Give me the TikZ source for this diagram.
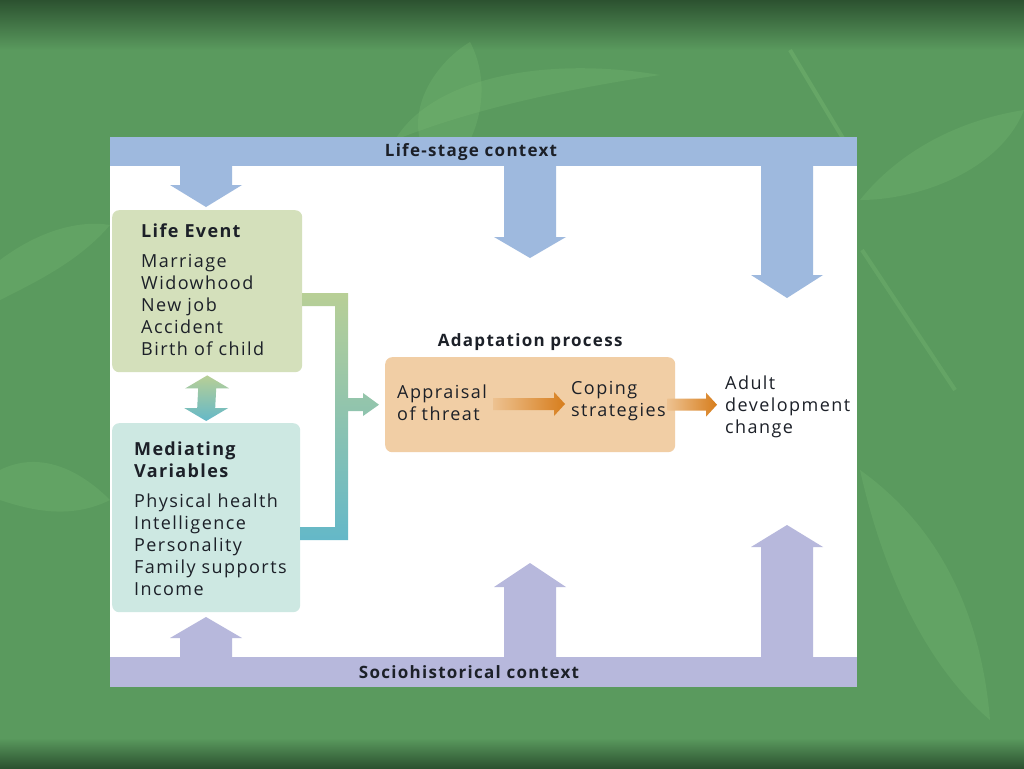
\documentclass[tikz,border=0pt]{standalone}
\usepackage{fontspec}
\setmainfont{Open Sans}[LetterSpace=8, BoldFeatures={LetterSpace=7.5}]
\usetikzlibrary{positioning,calc}

\definecolor{slidegreen}{RGB}{90,154,94}
\definecolor{slidedark}{RGB}{44,82,48}
\definecolor{leafgreen}{RGB}{125,190,118}
\definecolor{stageblue}{RGB}{158,185,222}
\definecolor{sociopurple}{RGB}{183,184,220}
\definecolor{eventgreen}{RGB}{212,224,187}
\definecolor{mediateaqua}{RGB}{205,232,226}
\definecolor{adaptpeach}{RGB}{241,206,165}
\definecolor{copeorange}{RGB}{215,125,28}
\definecolor{linkgreen}{RGB}{184,207,150}
\definecolor{linkteal}{RGB}{100,184,200}
\definecolor{inkdark}{RGB}{28,32,40}

\begin{document}
\begin{tikzpicture}[x=1pt, y=-1pt,
    every node/.style={inner sep=0pt, text=inkdark, font=\fontsize{18}{22}\selectfont},
    ctxlabel/.style={font=\bfseries\fontsize{17}{20}\selectfont},
    listbox/.style={rounded corners=7pt, anchor=north west},
    eventbox/.style={listbox, fill=eventgreen, minimum width=190pt, minimum height=162pt},
    mediatebox/.style={listbox, fill=mediateaqua, minimum width=188pt, minimum height=189pt},
    adaptbox/.style={listbox, fill=adaptpeach, minimum width=290pt, minimum height=95pt},
    listtext/.style={anchor=north west, align=left},
    steptext/.style={anchor=west, align=left},
    leaf/.style={fill=leafgreen, fill opacity=0.25},
    stagearrow/.style={fill=stageblue},
    socioarrow/.style={fill=sociopurple},
    linkshade/.style={top color=linkgreen, bottom color=linkteal},
    orangearrow/.style={left color=adaptpeach!85!copeorange, right color=copeorange}
]
    \useasboundingbox (0,0) rectangle (1024,768);

    % Slide background
    \fill[slidegreen] (0,0) rectangle (1024,768);
    \shade[top color=slidedark, bottom color=slidegreen] (0,0) rectangle (1024,50);
    \shade[top color=slidegreen, bottom color=slidedark] (0,738) rectangle (1024,768);
    \fill[leaf] (395,140) .. controls (430,80) and (540,55) .. (660,75) .. controls (560,90) and (470,110) .. (395,140);
    \fill[leaf] (420,140) .. controls (410,100) and (440,60) .. (470,42) .. controls (490,80) and (480,120) .. (470,140);
    \fill[leaf] (860,200) .. controls (900,150) and (960,120) .. (1024,110) .. controls (1000,170) and (920,200) .. (860,200);
    \fill[leaf] (860,470) .. controls (930,520) and (980,600) .. (990,720) .. controls (920,660) and (880,560) .. (860,470);
    \fill[leaf] (0,260) .. controls (40,230) and (80,220) .. (110,225) .. controls (80,260) and (40,280) .. (0,300);
    \fill[leaf] (0,470) .. controls (40,450) and (80,470) .. (110,500) .. controls (70,520) and (30,510) .. (0,500);
    \draw[leafgreen, opacity=0.35, line width=4pt] (790,50) -- (850,150);
    \draw[leafgreen, opacity=0.3, line width=4pt] (862,250) -- (955,390);

    % Panel and context bands
    \fill[white] (110,137) rectangle (857,687);
    \fill[stageblue] (110,137) rectangle (857,166);
    \fill[sociopurple] (110,657) rectangle (857,687);
    \node[ctxlabel] (lifestage) at (471,152) {Life-stage context};
    \node[ctxlabel] (sociohist) at (469,672) {Sociohistorical context};

    % Context arrows
    \foreach \cx/\hb/\tip in {206/185/207, 530/237/258, 787/275/298}
        \fill[stagearrow] (\cx-26,160) -- (\cx+26,160) -- (\cx+26,\hb) -- (\cx+36,\hb) -- (\cx,\tip) -- (\cx-36,\hb) -- (\cx-26,\hb) -- cycle;
    \foreach \cx/\hb/\tip in {206/638/617, 530/587/563, 787/547/525}
        \fill[socioarrow] (\cx-26,662) -- (\cx+26,662) -- (\cx+26,\hb) -- (\cx+36,\hb) -- (\cx,\tip) -- (\cx-36,\hb) -- (\cx-26,\hb) -- cycle;

    % Life event and mediating variables
    \node[eventbox] (event) at (112,210) {};
    \node[listtext] (eventlist) at ([xshift=29pt, yshift=-14pt]event.north west)
        {\textbf{Life Event}\\[8pt]Marriage\\Widowhood\\New job\\Accident\\Birth of child};
    \node[mediatebox] (mediate) at (112,423) {};
    \node[listtext] (mediatelist) at ([xshift=22pt, yshift=-19pt]mediate.north west)
        {\textbf{Mediating}\\\textbf{Variables}\\[8pt]Physical health\\Intelligence\\Personality\\Family supports\\Income};

    % Two-way arrow between the boxes
    \coordinate (dtop) at ([yshift=-3pt]event.south);
    \coordinate (dbot) at ([yshift=2pt]mediate.north);
    \shade[linkshade] (dtop) -- ++(22,13) -- ++(-13,0) -- ($(dbot)+(9,-13)$) -- ++(13,0) -- (dbot)
        -- ++(-22,-13) -- ++(13,0) -- ($(dtop)+(-9,13)$) -- ++(-13,0) -- cycle;

    % Adaptation process
    \node[adaptbox] (adapt) at (385,357) {};
    \node[ctxlabel, above=6pt of adapt.north] (adaptlabel) {Adaptation process};
    \node[steptext] (appraisal) at (397,403) {Appraisal\\of threat};
    \node[steptext] (coping) at (571,401) {Coping\\strategies};
    \node[steptext] (adult) at (725,407) {Adult\\development\\change};

    % Bracket joining both boxes into the process
    \shade[linkshade] (302,293) -- (348,293) -- (348,398) -- (363,398) -- (363,393)
        -- ([xshift=-6pt]adapt.west) -- (363,416) -- (363,411) -- (348,411) -- (348,540)
        -- (300,540) -- (300,527) -- (335,527) -- (335,306) -- (302,306) -- cycle;

    % Orange step arrows
    \path[orangearrow] let \p1=($(appraisal.east)+(6,1)$), \p2=($(coping.west)+(-6,0)$) in
        (\x1,\y1+6pt) -- (\x2-11pt,\y1+6pt) -- (\x2-11pt,\y1+12pt) -- (\x2,\y1)
        -- (\x2-11pt,\y1-12pt) -- (\x2-11pt,\y1-6pt) -- (\x1,\y1-6pt) -- cycle;
    \path[orangearrow] let \p1=($(adapt.east)+(-8,0)$), \p2=($(adult.west)+(-8,0)$) in
        (\x1,\y1+6pt) -- (\x2-11pt,\y1+6pt) -- (\x2-11pt,\y1+12pt) -- (\x2,\y1)
        -- (\x2-11pt,\y1-12pt) -- (\x2-11pt,\y1-6pt) -- (\x1,\y1-6pt) -- cycle;
\end{tikzpicture}
\end{document}
